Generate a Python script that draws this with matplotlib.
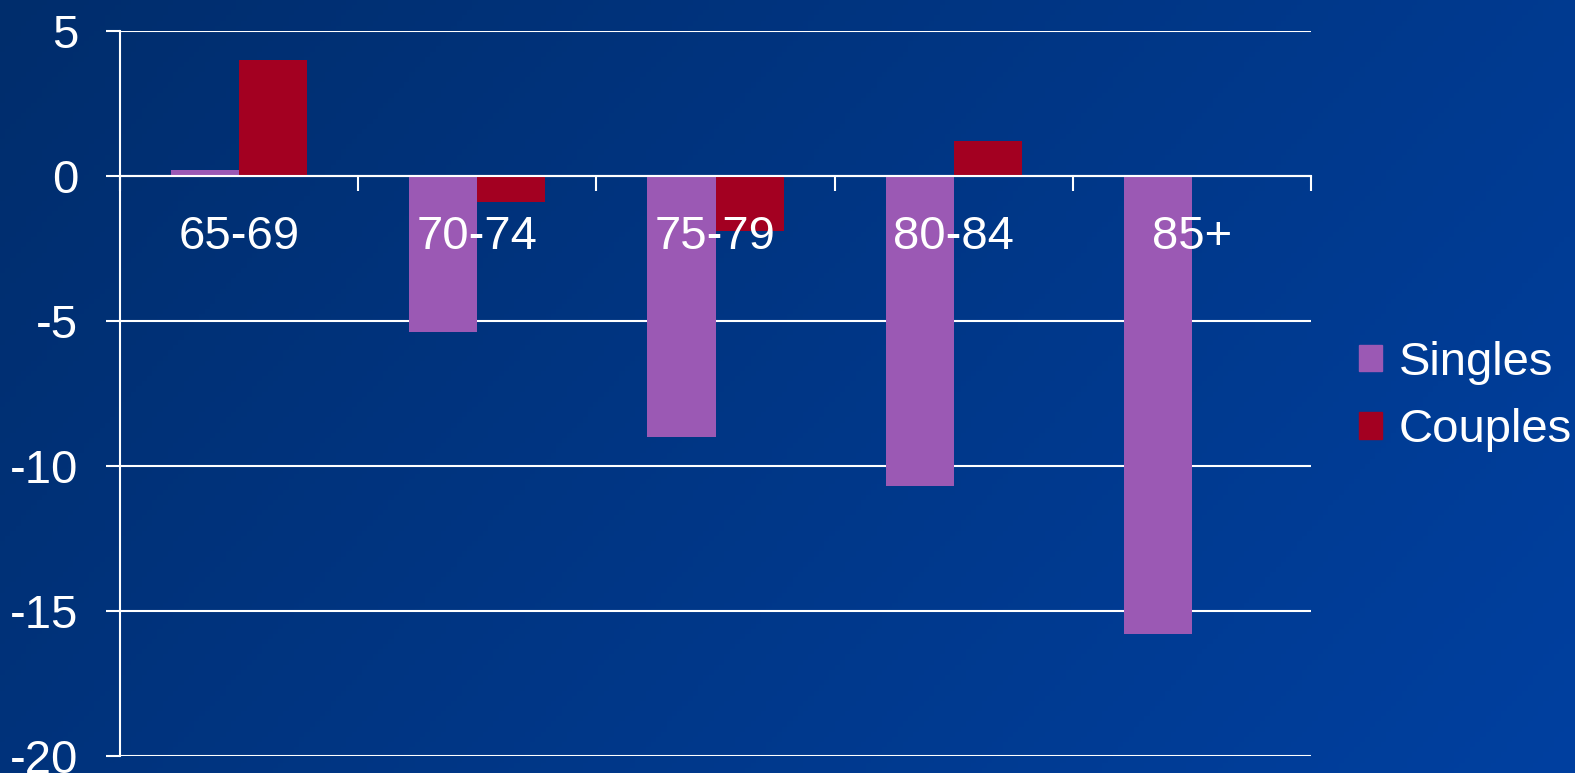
import numpy as np
import matplotlib.pyplot as plt
from matplotlib.patches import Patch
import matplotlib.transforms as mtransforms

plt.rcParams['font.family'] = ['Liberation Sans', 'DejaVu Sans']
plt.rcParams['axes.unicode_minus'] = False

categories = ['65-69', '70-74', '75-79', '80-84', '85+']
singles = [0.2, -5.4, -9.0, -10.7, -15.8]
couples = [4.0, -0.9, -1.9, 1.2, 0.0]
series_names = ['Singles', 'Couples']
colors = ['#9B59B4', '#A30021']

fig = plt.figure(figsize=(15.75, 7.73), dpi=100)

# gradient background, dark navy top-left to brighter blue bottom-right
bg = fig.add_axes([0, 0, 1, 1], zorder=-10)
gx, gy = np.meshgrid(np.linspace(0, 1, 300), np.linspace(0, 1, 150))
t = (gx * 0.7 + gy * 0.3)
c0 = np.array([0x00, 0x2D, 0x6C]) / 255
c1 = np.array([0x00, 0x40, 0xA0]) / 255
img = c0[None, None, :] * (1 - t[..., None]) + c1[None, None, :] * t[..., None]
bg.imshow(img, aspect='auto', extent=[0, 1, 0, 1], origin='upper')
bg.axis('off')

ax = fig.add_axes([0.0762, 0.0224, 0.7562, 0.9375])
ax.patch.set_alpha(0)

x = np.arange(len(categories))
w = 0.2857
ax.bar(x - w / 2, singles, w, color=colors[0], zorder=3)
ax.bar(x + w / 2, couples, w, color=colors[1], zorder=3)

ax.set_xlim(-0.5, len(categories) - 0.5)
ax.set_ylim(-20, 5)
ax.set_yticks(range(-20, 6, 5))
ax.yaxis.grid(True, color='white', linewidth=1.5, zorder=1)
ax.set_axisbelow(True)

for s in ['top', 'right']:
    ax.spines[s].set_visible(False)
ax.spines['left'].set_color('white')
ax.spines['left'].set_linewidth(1.5)
ax.spines['bottom'].set_position(('data', 0))
ax.spines['bottom'].set_color('white')
ax.spines['bottom'].set_linewidth(1.5)
ax.spines['bottom'].set_zorder(4)

ax.set_xticks([])
ax.set_xticks(np.arange(-0.5, len(categories)), minor=True)
ax.tick_params(axis='x', which='minor', length=11, width=1.5, color='white', direction='out')
ax.tick_params(axis='y', length=10, width=1.5, color='white', pad=20, labelsize=34, labelcolor='white')

# category labels sit just below the zero line, on top of the bars
off = mtransforms.offset_copy(ax.transData, fig=fig, x=0, y=-28, units='points')
for xi, lab in zip(x, categories):
    ax.text(xi, 0, lab, transform=off, ha='center', va='top', fontsize=34,
            color='white', zorder=5)

handles = [Patch(color=c, label=n) for c, n in zip(colors, series_names)]
fig.legend(handles=handles, loc='center left', bbox_to_anchor=(0.8476, 0.487),
           frameon=False, fontsize=34, labelcolor='white', handlelength=0.5,
           handleheight=0.5, handletextpad=0.35, labelspacing=0.5, borderpad=0)

fig.savefig('out.png', dpi=100)
